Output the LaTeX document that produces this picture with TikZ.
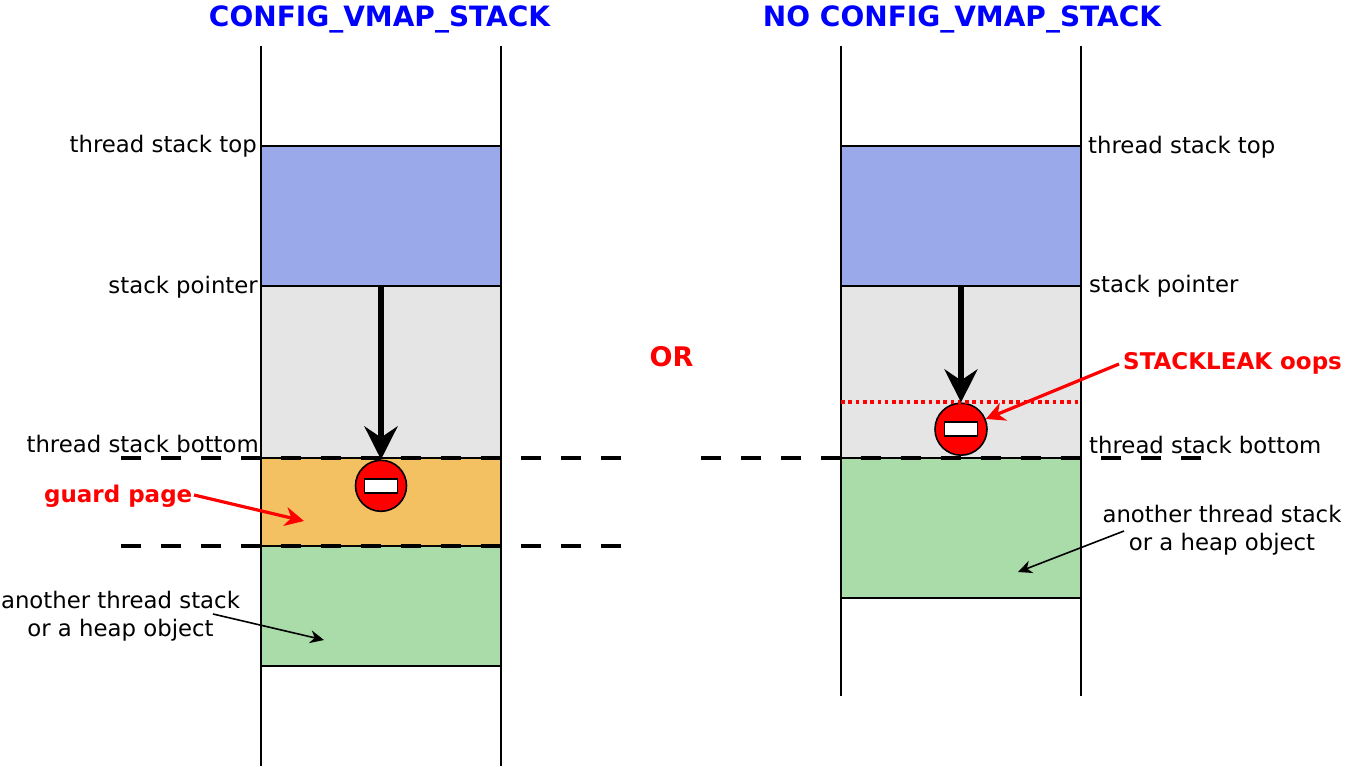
\documentclass[tikz,border=0pt]{standalone}
\usepackage{fontspec}
\setmainfont{DejaVu Sans}
\usetikzlibrary{arrows.meta,positioning,calc}

\definecolor{stackblue}{HTML}{99A9E9}
\definecolor{usedgrey}{HTML}{E5E5E5}
\definecolor{guardorange}{HTML}{F4C162}
\definecolor{othergreen}{HTML}{AADCAA}

\begin{document}
\begin{tikzpicture}[
x=1pt, y=-1pt,
node distance=0pt,
block/.style={draw, line width=1.6pt, outer sep=0pt, inner sep=0pt, minimum width=240pt},
rail/.style={line width=1.6pt},
borderline/.style={line width=3.5pt, dash pattern=on 20pt off 20pt},
growarrow/.style={-{Stealth[length=33pt,width=33pt,inset=11pt]}, line width=5.5pt},
redarrow/.style={-{Stealth[length=19pt,width=19pt,inset=6pt]}, red, line width=3.2pt},
blackarrow/.style={-{Stealth[length=14pt,width=13pt,inset=4.5pt]}, line width=1.6pt},
stopsign/.style={circle, draw, fill=red, line width=1.6pt, minimum size=51pt, inner sep=0pt},
stopbar/.style={draw, fill=white, line width=1.6pt, minimum width=33pt, minimum height=14pt, inner sep=0pt},
lbl/.style={inner sep=0pt, font=\fontsize{22.8}{27.5}\selectfont, align=center},
redlbl/.style={inner sep=0pt, text=red, font=\fontsize{23}{27}\selectfont\bfseries},
titlelbl/.style={inner sep=0pt, text=blue, font=\fontsize{28}{32}\selectfont\bfseries}
]
\useasboundingbox (0,0) rectangle (1353,767);

% -------- Left stack --------
\node[block, fill=stackblue, minimum height=140pt, anchor=north west] (blueL) at (261,146) {};
\node[block, fill=usedgrey, minimum height=172pt, below=of blueL] (greyL) {};
\node[block, fill=guardorange, minimum height=88pt, below=of greyL] (guardL) {};
\node[block, fill=othergreen, minimum height=120pt, below=of guardL] (greenL) {};

\coordinate (railLat) at (261,46);
\coordinate (railLab) at (261,766);
\coordinate (railLbt) at (501,46);
\coordinate (railLbb) at (501,766);
\draw[rail] (railLat) -- (railLab);
\draw[rail] (railLbt) -- (railLbb);

% -------- Right stack --------
\node[block, fill=stackblue, minimum height=140pt, anchor=north west] (blueR) at (841,146) {};
\node[block, fill=usedgrey, minimum height=172pt, below=of blueR] (greyR) {};
\node[block, fill=othergreen, minimum height=140pt, below=of greyR] (greenR) {};

\coordinate (railRat) at (841,46);
\coordinate (railRab) at (841,696);
\coordinate (railRbt) at (1081,46);
\coordinate (railRbb) at (1081,696);
\draw[rail] (railRat) -- (railRab);
\draw[rail] (railRbt) -- (railRbb);

% -------- Dashed borders --------
\coordinate (guardtopa) at (121,458);
\coordinate (guardtopb) at (621,458);
\coordinate (guardbota) at (121,546);
\coordinate (guardbotb) at (621,546);
\coordinate (bottoma) at (701,458);
\coordinate (bottomb) at (1201,458);
\draw[borderline] (guardtopa) -- (guardtopb);
\draw[borderline] (guardbota) -- (guardbotb);
\draw[borderline] (bottoma) -- (bottomb);

% -------- Stop signs --------
\node[stopsign, below=1.5pt of guardL.north] (stopL) {};
\node[stopbar] (barL) at (stopL) {};
\node[stopsign, minimum size=52pt, above=2pt of greenR.north] (stopR) {};
\node[stopbar] (barR) at (stopR) {};

\coordinate (dotsa) at (841,402.5);
\coordinate (dotsb) at (1081,402.5);
\draw[red, line width=4pt, dash pattern=on 3.6pt off 3.7pt] (dotsa) -- (dotsb);

\draw[growarrow] (blueL.south) -- (stopL.north);
\draw[growarrow] (blueR.south) -- (stopR.north);

% -------- Labels --------
\node[titlelbl] (titleL) at (379.5,19) {CONFIG\_VMAP\_STACK};
\node[titlelbl] (titleR) at (962,19) {NO CONFIG\_VMAP\_STACK};
\node[inner sep=0pt, text=red, font=\fontsize{27}{30}\selectfont\bfseries] (orlbl) at (671.5,357) {OR};

\node[lbl, anchor=east] (topL) at (257,146) {thread stack top};
\node[lbl, anchor=east] (spL) at (258,287) {stack pointer};
\node[lbl, anchor=east] (bottomL) at (259,444) {thread stack bottom};
\node[lbl] (otherL) at (120.5,616) {another thread stack\\or a heap object};
\node[redlbl, anchor=east] (guardlbl) at (192.5,496) {guard page};

\node[lbl, anchor=west] (topR) at (1088,147) {thread stack top};
\node[lbl, anchor=west] (spR) at (1089,286) {stack pointer};
\node[lbl, anchor=west] (bottomR) at (1089,445) {thread stack bottom};
\node[lbl] (otherR) at (1222,530) {another thread stack\\or a heap object};
\node[redlbl, anchor=west] (oopslbl) at (1123,363) {STACKLEAK oops};

% -------- Pointers --------
\coordinate (guardfrom) at (194,495);
\coordinate (guardto) at (304,521);
\coordinate (oopsfrom) at (1119,364);
\coordinate (otherLfrom) at (213,614);
\coordinate (otherLto) at (324,640);
\coordinate (otherRfrom) at (1124,531);
\coordinate (otherRto) at (1018,572);
\draw[redarrow] (guardfrom) -- (guardto);
\draw[redarrow] (oopsfrom) -- (stopR);
\draw[blackarrow] (otherLfrom) -- (otherLto);
\draw[blackarrow] (otherRfrom) -- (otherRto);

\end{tikzpicture}
\end{document}
